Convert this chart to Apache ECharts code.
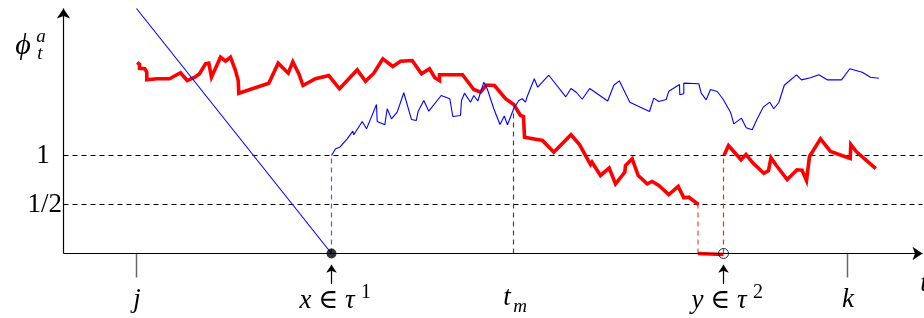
<!DOCTYPE html>
<html>
<head>
<meta charset="utf-8">
<script src="https://cdn.jsdelivr.net/npm/echarts@6/dist/echarts.min.js"></script>
<style>
  html, body { margin: 0; padding: 0; background: #fff; }
  #chart { width: 924px; height: 318px; }
</style>
</head>
<body>
<div id="chart"></div>
<script>
// time axis (x) and phi values (y)
var redBefore = [
  [136.7, 1.95], [139, 1.93], [139, 1.89], [144.3, 1.885], [146.3, 1.85], [146.3, 1.772],
  [156.7, 1.783], [169, 1.783], [180, 1.844], [186.7, 1.765], [194.3, 1.799], [199, 1.834],
  [205, 1.936], [208.3, 1.942], [211, 1.799], [220, 2.003], [225, 1.962], [230, 2.003],
  [235, 1.867], [237.7, 1.765], [238.3, 1.636], [268.3, 1.738], [277.7, 1.942], [287.7, 1.84],
  [292.3, 1.956], [298.3, 1.834], [302.5, 1.714], [315, 1.783], [328.3, 1.816], [339, 1.681],
  [356.7, 1.874], [365, 1.758], [373.3, 1.84], [382.3, 1.987], [392.3, 1.908], [400, 1.962],
  [411.7, 1.969], [421, 1.834], [429, 1.885], [434.3, 1.793], [439, 1.765], [439, 1.824],
  [462, 1.824], [473.3, 1.673], [480, 1.646], [486, 1.719], [494, 1.714], [505, 1.579],
  [513.3, 1.52], [520, 1.408], [523, 1.398], [524, 1.187], [542, 1.153], [553.3, 1.034],
  [570.5, 1.212], [579, 1.112], [590, 0.908], [591.5, 0.932], [600, 0.796], [608.7, 0.872],
  [615, 0.709], [624.3, 0.83], [625, 0.898], [631.7, 0.966], [637.7, 0.796], [646.7, 0.711],
  [651.7, 0.735], [658.3, 0.694], [668.3, 0.602], [677.7, 0.684], [683.3, 0.568],
  [688.3, 0.574], [698, 0.5]
];
var redAfter = [
  [723.5, 1.0], [728, 1.102], [740.5, 0.956], [745.5, 1.01], [752.5, 0.923], [763.3, 0.819],
  [768, 0.847], [770.5, 0.977], [775.5, 0.903], [786.7, 0.755], [796.5, 0.854], [801.5, 0.85],
  [806, 0.745], [809, 0.99], [820, 1.17], [830, 1.041], [849.7, 0.969], [850.3, 1.112],
  [856, 1.038], [875.3, 0.867]
];
var redGap = [[697.5, 0], [723, -0.01]];
var blueWalk = [
  [331, 1.0], [335, 1.068], [339.3, 1.085], [346.7, 1.17], [352.3, 1.248], [353.3, 1.211],
  [361.7, 1.347], [366, 1.272], [376, 1.52], [376.7, 1.347], [384.3, 1.313], [386.7, 1.477],
  [391, 1.374], [396.7, 1.442], [403.3, 1.64], [411, 1.367], [415.7, 1.357], [417.7, 1.452],
  [423.3, 1.561], [428.3, 1.452], [440.7, 1.612], [449.3, 1.579], [452.3, 1.398], [460, 1.408],
  [461, 1.561], [464, 1.636], [470, 1.544], [473.3, 1.612], [477.3, 1.556], [483.3, 1.748],
  [486.7, 1.681], [493.3, 1.477], [499.5, 1.316], [503.8, 1.403], [507, 1.313], [513.3, 1.48],
  [518.3, 1.561], [521.7, 1.579], [525, 1.544], [526.7, 1.602], [533.8, 1.783], [537.2, 1.697],
  [548.3, 1.819], [565.3, 1.599], [570.5, 1.684], [576, 1.643], [581.7, 1.574], [589.2, 1.684],
  [607.2, 1.556], [613.3, 1.717], [618.8, 1.762], [629.3, 1.544], [649, 1.449], [653.3, 1.585],
  [658.3, 1.551], [665.7, 1.571], [668.3, 1.656], [679, 1.724], [679.3, 1.619], [683.3, 1.63],
  [683.3, 1.738], [698.3, 1.732], [700.7, 1.636], [705.7, 1.568], [710, 1.673], [716.7, 1.653],
  [722.3, 1.579], [730, 1.442], [733.3, 1.323], [741, 1.381], [745.7, 1.283], [751.7, 1.262],
  [756.7, 1.374], [762.7, 1.493], [769.3, 1.544], [773.3, 1.477], [778.3, 1.541], [783.8, 1.717],
  [796, 1.823], [801, 1.772], [810, 1.793], [818.3, 1.823], [826.7, 1.772], [841, 1.772],
  [849.3, 1.885], [861.7, 1.85], [870, 1.799], [878.3, 1.789]
];
var blueDrop = [[136, 2.5], [331, 0]];

// marked times on the axis
var tX = 331, tM = 513, tY = 723, tJ = 136, tK = 847;
var levels = [1, 0.5];
var axisStart = 63, axisEnd = 922, axisTop = 2.5;

var chart = echarts.init(document.getElementById('chart'));

function seg(a, b, color, width, dashed, z) {
  return {
    type: 'line', data: [a, b], symbol: 'none', silent: true, z: z || 2,
    lineStyle: { color: color, width: width, type: dashed ? [5, 4] : 'solid' }
  };
}
function arrow(a, b, color, width, size) {
  return {
    type: 'lines', coordinateSystem: 'cartesian2d', silent: true, z: 5,
    symbol: ['none', 'arrow'], symbolSize: size,
    lineStyle: { color: color, width: width, opacity: 1 },
    data: [{ coords: [a, b] }]
  };
}

var serif = '"Liberation Serif", "DejaVu Serif", serif';
function txt(x, y, s, size, italic, align) {
  return {
    type: 'text', x: x, y: y, silent: true,
    style: {
      text: s, font: (italic ? 'italic ' : '') + size + 'px ' + serif,
      fill: '#000', align: align || 'center', verticalAlign: 'middle'
    }
  };
}

var series = [];
levels.forEach(function (v) {
  series.push(seg([axisStart, v], [axisEnd, v], '#000', 1, true, 1));
});
series.push(seg([tX, 0], [tX, 1], '#4a5cff', 1.2, true, 1));
series.push(seg([tM, 0], [tM, 1.48], '#444', 1.2, true, 1));
series.push(seg([697.5, 0], [697.5, 0.5], '#ff4040', 1.2, true, 1));
series.push(seg([tY, 0], [tY, 1.0], '#ff2020', 1.2, true, 1));
series.push(seg([tJ, 0], [tJ, -0.245], '#666', 1.5, false, 1));
series.push(seg([tK, 0], [tK, -0.245], '#666', 1.5, false, 1));
series.push(arrow([axisStart, 0], [axisEnd, 0], '#000', 1.2, 10));
series.push(arrow([axisStart, 0], [axisStart, axisTop], '#000', 1.2, 10));
series.push(arrow([tX, -0.31], [tX, -0.115], '#000', 1.2, 8));
series.push(arrow([tY, -0.31], [tY, -0.115], '#000', 1.2, 8));
[redBefore, redAfter, redGap].forEach(function (d) {
  series.push({
    type: 'line', data: d, symbol: 'none', silent: true, z: 3,
    lineStyle: { color: '#ff0000', width: 3.6, join: 'miter' }
  });
});
[blueWalk, blueDrop].forEach(function (d) {
  series.push({
    type: 'line', data: d, symbol: 'none', silent: true, z: 4,
    lineStyle: { color: '#0000ff', width: 1.1 }
  });
});
series.push({
  type: 'scatter', data: [[tX, 0]], symbolSize: 10, silent: true, z: 6,
  itemStyle: { color: '#000' }
});
series.push({
  type: 'scatter', data: [[tY, 0]], symbolSize: 10, silent: true, z: 6,
  itemStyle: { color: 'rgba(255,255,255,0)', borderColor: '#000', borderWidth: 1 }
});

chart.setOption({
  animation: false,
  backgroundColor: '#fff',
  grid: { left: 0, right: 0, top: 0, bottom: 0 },
  // half-pixel offsets keep the thin rules crisp
  xAxis: { type: 'value', min: -0.5, max: 923.5, show: false },
  yAxis: { type: 'value', min: -0.6582, max: 2.5867, show: false },
  series: series,
  graphic: [
    txt(23, 46, 'ϕ', 30, true),
    txt(41, 37, 'a', 19, true),
    txt(40, 54, 't', 19, true),
    txt(43, 156, '1', 27, false),
    txt(62, 205, '1/2', 27, false, 'right'),
    txt(137, 300, 'j', 27, true),
    txt(327, 301, 'x ∈ τ', 27, true),
    txt(366, 293, '1', 20, false),
    txt(507, 298, 't', 27, true),
    txt(520, 307, 'm', 19, true),
    txt(719, 301, 'y ∈ τ', 27, true),
    txt(758, 293, '2', 20, false),
    txt(848, 300, 'k', 27, true),
    txt(924, 284, 't', 27, true)
  ]
});
</script>
</body>
</html>
